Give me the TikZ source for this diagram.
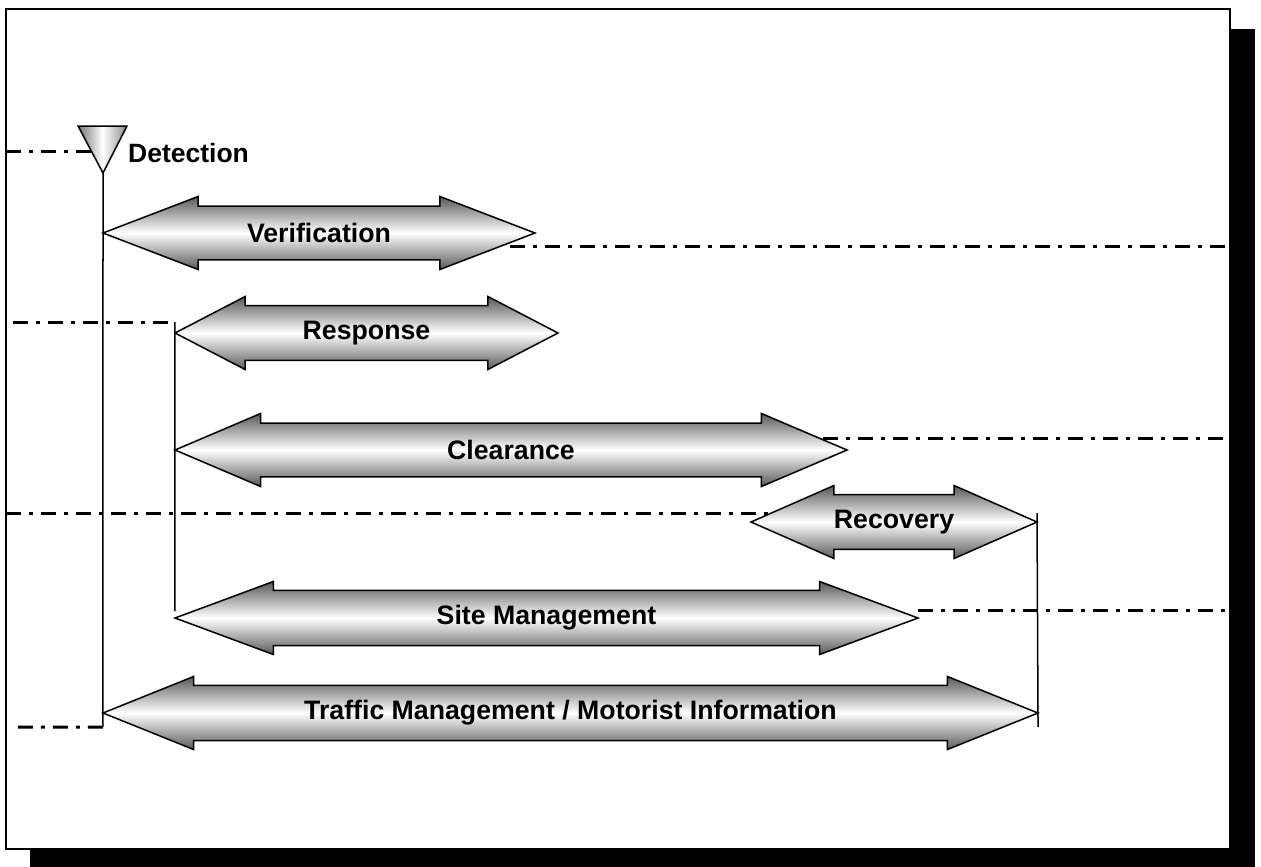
\documentclass[tikz,border=0pt]{standalone}
\usepackage{fontspec}
\setmainfont{Liberation Sans}
\usetikzlibrary{shapes.arrows,positioning,calc}

\begin{document}
\begin{tikzpicture}[
    x=1pt, y=-1pt,
    stage/.style={double arrow, draw, line width=1.5pt, inner xsep=0pt,
                  inner ysep=11.5pt, outer sep=0pt, minimum width=73pt,
                  double arrow head extend=8pt,
                  top color=black!65, bottom color=black!65, middle color=white,
                  font=\fontsize{26.7}{30}\selectfont\bfseries},
    tag/.style={font=\fontsize{26.5}{30}\selectfont\bfseries, inner sep=0pt},
    phase/.style={line width=3pt, dash pattern=on 15pt off 8pt on 4pt off 8pt},
    link/.style={line width=1.5pt}
]
\useasboundingbox (0,0) rectangle (1261,867);

% shadow and frame
\fill (30,29) rectangle (1255,867);
\draw[line width=2pt, fill=white] (6,9) rectangle (1230,849);

% time lines
\draw[phase] (6,151) -- (91,151);
\draw[phase] (510,246) -- (1230,246);
\draw[phase] (13,322) -- (175,322);
\draw[phase] (823,438) -- (1230,438);
\draw[phase] (6,513) -- (780,513);
\draw[phase] (918,610) -- (1230,610);

% detection marker
\shade[left color=black!55, right color=black!45, middle color=white,
       draw, line width=1.5pt]
    (78,126) -- (127,126) -- (103,173) coordinate (detect) -- cycle;
\node[tag, anchor=west] (detlabel) at (128,153) {Detection};

% stages
\node[stage, minimum height=432pt, double arrow tip angle=42] (verif) at (319,233) {Verification};
\node[stage, minimum height=383pt, double arrow tip angle=55] (resp) at (366.5,333) {Response};
\node[stage, minimum height=672pt, double arrow tip angle=46.2] (clear) at (511,450) {Clearance};
\node[stage, minimum height=286pt, double arrow tip angle=47.5] (recov) at (894,522) {Recovery};
\node[stage, minimum height=743pt, double arrow tip angle=40.7] (site) at (546.5,618) {Site Management};
\node[stage, minimum height=935pt, double arrow tip angle=43.9] (traffic) at (570.5,713) {Traffic Management / Motorist Information};

% brackets
\draw[link] (detect) -- (verif.west) -- (traffic.west) -- ++(0,14) coordinate (detend);
\draw[phase] (detend) -- (13,727);
\draw[link] ($(resp.west)+(0,-11)$) -- ($(site.west)+(0,-7)$);
\draw[link] ($(recov.east)+(0,-9)$) -- ($(traffic.east)+(0,14)$);
\end{tikzpicture}
\end{document}
